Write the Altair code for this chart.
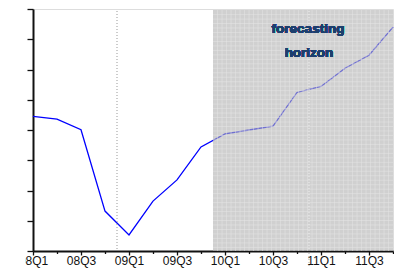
import altair as alt
import pandas as pd

quarters = ["08Q1", "08Q2", "08Q3", "08Q4", "09Q1", "09Q2", "09Q3", "09Q4",
            "10Q1", "10Q2", "10Q3", "10Q4", "11Q1", "11Q2", "11Q3", "11Q4"]
values = [4.45, 4.36, 4.01, 1.32, 0.53, 1.65, 2.35, 3.44,
          3.87, 4.00, 4.13, 5.24, 5.44, 6.04, 6.47, 7.40]
forecast_start = [7.5]
forecast_end = [15]
divider = [3.5]
divider2 = [11.5]
annotation = ["forecasting", "horizon"]

W, H = 360, 242

df = pd.DataFrame({"q": list(range(len(quarters))), "v": values})
shade_df = pd.DataFrame({"x0": forecast_start, "x1": forecast_end})
div_df = pd.DataFrame({"x": divider})
div2_df = pd.DataFrame({"x": divider2})

arr = "[" + ",".join("'%s'" % q for q in quarters) + "]"
label_expr = "datum.value % 2 == 0 ? " + arr + "[datum.value] : ''"

xscale = alt.Scale(domain=[0, 15], nice=False, zero=False)
yscale = alt.Scale(domain=[0, 8], nice=False, zero=True)

xaxis = alt.Axis(
    values=list(range(16)), labelExpr=label_expr, title=None, grid=False,
    tickSize={"condition": {"test": "datum.value % 2 == 0", "value": 4}, "value": 2.5},
    tickColor="#111", tickWidth=1.3, domainColor="#111", domainWidth=2,
    labelFont="Liberation Sans", labelFontSize=12, labelColor="#111",
    labelPadding=0, labelFlush=False, labelOverlap=False,
)
yaxis = alt.Axis(
    values=list(range(9)), labels=False, title=None, grid=False, tickSize=6,
    tickColor="#111", tickWidth=1.3, domainColor="#111", domainWidth=2,
)


def X(field):
    return alt.X(field, scale=xscale, axis=xaxis)


def Y(field):
    return alt.Y(field, scale=yscale, axis=yaxis)


line = alt.Chart(df).mark_line(color="#0000ff", strokeWidth=1.3).encode(
    x=X("q:Q"), y=Y("v:Q"),
)

div = alt.Chart(div_df).mark_rule(color="#999999", strokeDash=[1, 2], strokeWidth=1).encode(
    x=X("x:Q"), y=alt.value(2), y2=alt.value(H)
)

shade = alt.Chart(shade_df).mark_rect(color="#b3b3b3", opacity=0.62).encode(
    x=X("x0:Q"), x2="x1:Q", y=alt.value(1), y2=alt.value(H)
)

# fine hatch grid decorating the forecasting area
vgrid = alt.Chart(alt.sequence(7.69, 15, 0.1875, as_="g")).mark_rule(
    color="#e6e6e6", strokeWidth=0.7, opacity=0.7).encode(
    x=X("g:Q"), y=alt.value(1), y2=alt.value(H)
)
hgrid = alt.Chart(alt.sequence(0.12, 7.95, 0.148, as_="g")).transform_calculate(
    a="7.5", b="15").mark_rule(color="#e6e6e6", strokeWidth=0.7, opacity=0.7).encode(
    y=Y("g:Q"), x=X("a:Q"), x2="b:Q"
)

div2_in = alt.Chart(div2_df).mark_rule(color="#eeeeee", strokeDash=[1, 2], strokeWidth=1).encode(
    x=X("x:Q"), y=alt.value(2), y2=alt.value(H)
)
div2_out = alt.Chart(div2_df).mark_rule(color="#aaaaaa", strokeDash=[1, 2], strokeWidth=1).encode(
    x=X("x:Q"), y=alt.value(H + 2), y2=alt.value(H + 17)
)

txt_style = dict(font="Liberation Sans", fontSize=13.5, fontWeight="bold",
                 color="#1d3f6e", align="center", baseline="alphabetic")
t1 = alt.Chart(df).mark_text(**txt_style).encode(
    x=alt.value(275), y=alt.value(23.5), text=alt.value(annotation[0])
)
t2 = alt.Chart(df).mark_text(**txt_style).encode(
    x=alt.value(276), y=alt.value(48), text=alt.value(annotation[1])
)

mask = alt.Chart(df).mark_rect(color="white").encode(
    x=alt.value(-25), x2=alt.value(-8), y=alt.value(H + 3), y2=alt.value(H + 17)
)

chart = alt.layer(line, div, shade, vgrid, hgrid, div2_in, div2_out, t1, t2, mask).properties(
    width=W, height=H,
    autosize=alt.AutoSizeParams(type="none"),
    padding={"left": 25, "top": 1, "right": 1, "bottom": 17},
).configure_view(stroke="#222222", strokeWidth=2).configure(background="white")

chart.save("out.html", embed_options={"renderer": "svg", "actions": False})
